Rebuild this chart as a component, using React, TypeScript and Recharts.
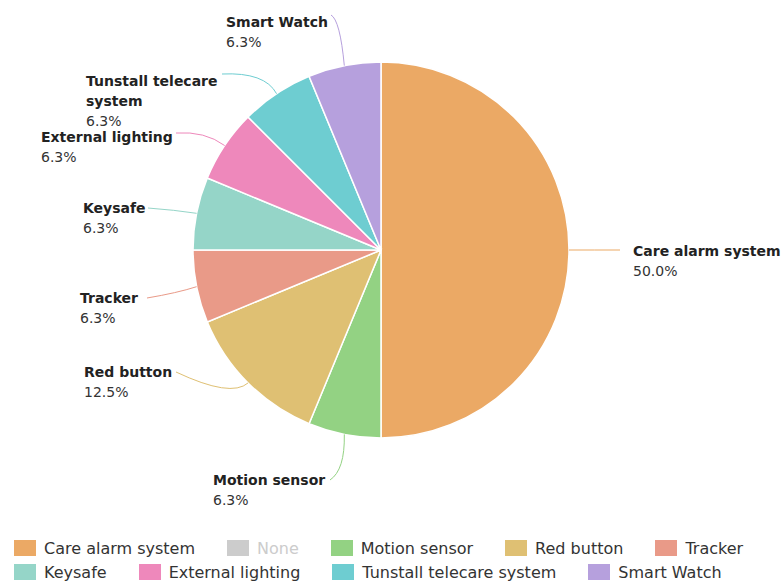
import React from 'react'
import { PieChart, Pie, Cell, Legend } from 'recharts'

const categories = [
  'Care alarm system',
  'None',
  'Motion sensor',
  'Red button',
  'Tracker',
  'Keysafe',
  'External lighting',
  'Tunstall telecare system',
  'Smart Watch',
]
const counts = [8, 0, 1, 2, 1, 1, 1, 1, 1]
const colors = [
  '#eba965',
  '#cccccc',
  '#93d283',
  '#dfc073',
  '#e99a88',
  '#95d5c8',
  '#ee88bb',
  '#6ecdd1',
  '#b6a0dd',
]

const data = categories.map((name, i) => ({ name, value: counts[i] }))
const total = counts.reduce((a, b) => a + b, 0)

// leader line bend / end and text anchor, relative to the pie centre
const labelLayout: Record<string, { elbow: number[]; end: number[]; text: number[] }> = {
  'Care alarm system': { elbow: [214, 0], end: [239, 0], text: [252, 1] },
  'Motion sensor': { elbow: [-36, 220], end: [-51, 230], text: [-168, 230] },
  'Red button': { elbow: [-150, 148], end: [-205, 122], text: [-297, 122] },
  Tracker: { elbow: [-204, 43], end: [-234, 48], text: [-301, 48] },
  Keysafe: { elbow: [-206, -40], end: [-233, -42], text: [-298, -42] },
  'External lighting': { elbow: [-176, -119], end: [-205, -117], text: [-340, -113] },
  'Tunstall telecare system': { elbow: [-116, -178], end: [-159, -176], text: [-295, -169] },
  'Smart Watch': { elbow: [-41, -230], end: [-50, -235], text: [-155, -228] },
}

const RAD = Math.PI / 180

const renderLabel = (props: any) => {
  const { cx, cy, midAngle, outerRadius, index } = props
  const name = categories[index]
  const value = counts[index]
  const lay = labelLayout[name]
  if (!value || !lay) return null
  const sx = cx + outerRadius * Math.cos(-midAngle * RAD)
  const sy = cy + outerRadius * Math.sin(-midAngle * RAD)
  const ex = cx + lay.elbow[0]
  const ey = cy + lay.elbow[1]
  const tx = cx + lay.end[0]
  const ty = cy + lay.end[1]
  const lines = name.length > 20 ? [name.slice(0, name.lastIndexOf(' ')), name.slice(name.lastIndexOf(' ') + 1)] : [name]
  const x = cx + lay.text[0]
  const y = cy + lay.text[1]
  const pct = ((value / total) * 100).toFixed(1) + '%'
  return (
    <g>
      <path d={`M${sx},${sy} Q${ex},${ey} ${tx},${ty}`} stroke={colors[index]} fill='none' strokeWidth={1} />
      {lines.map((l, k) => (
        <text key={k} x={x} y={y + k * 20} dominantBaseline='central' fontSize={14} fontWeight='bold' fill='#222' fontFamily='DejaVu Sans'>
          {l}
        </text>
      ))}
      <text x={x} y={y + lines.length * 20} dominantBaseline='central' fontSize={14} fill='#333' fontFamily='DejaVu Sans'>
        {pct}
      </text>
    </g>
  )
}

const renderLegend = () => (
  <div style={{ display: 'flex', flexWrap: 'wrap', paddingLeft: 14, fontFamily: 'DejaVu Sans', fontSize: 16 }}>
    {categories.map((name, i) => (
      <div key={name} style={{ display: 'flex', alignItems: 'center', height: 24, marginRight: 32 }}>
        <span style={{ display: 'inline-block', width: 22, height: 16, background: colors[i], marginRight: 8 }} />
        <span style={{ color: counts[i] ? '#333' : '#cccccc', whiteSpace: 'nowrap' }}>{name}</span>
      </div>
    ))}
  </div>
)

export default function App() {
  return (
    <div style={{ position: 'absolute', left: 0, top: 0, width: 784, height: 581, background: '#fff' }}>
      <PieChart width={784} height={581} margin={{ top: 0, right: 0, bottom: 0, left: 0 }}>
        <Pie
          data={data}
          dataKey='value'
          nameKey='name'
          cx={381}
          cy={250}
          outerRadius={188}
          startAngle={90}
          endAngle={-270}
          stroke='#fff'
          strokeWidth={1.5}
          label={renderLabel}
          labelLine={false}
          isAnimationActive={false}
        >
          {data.map((d, i) => (
            <Cell key={d.name} fill={colors[i]} />
          ))}
        </Pie>
        <Legend content={renderLegend} wrapperStyle={{ left: 0, top: 536, width: 784 }} />
      </PieChart>
    </div>
  )
}
